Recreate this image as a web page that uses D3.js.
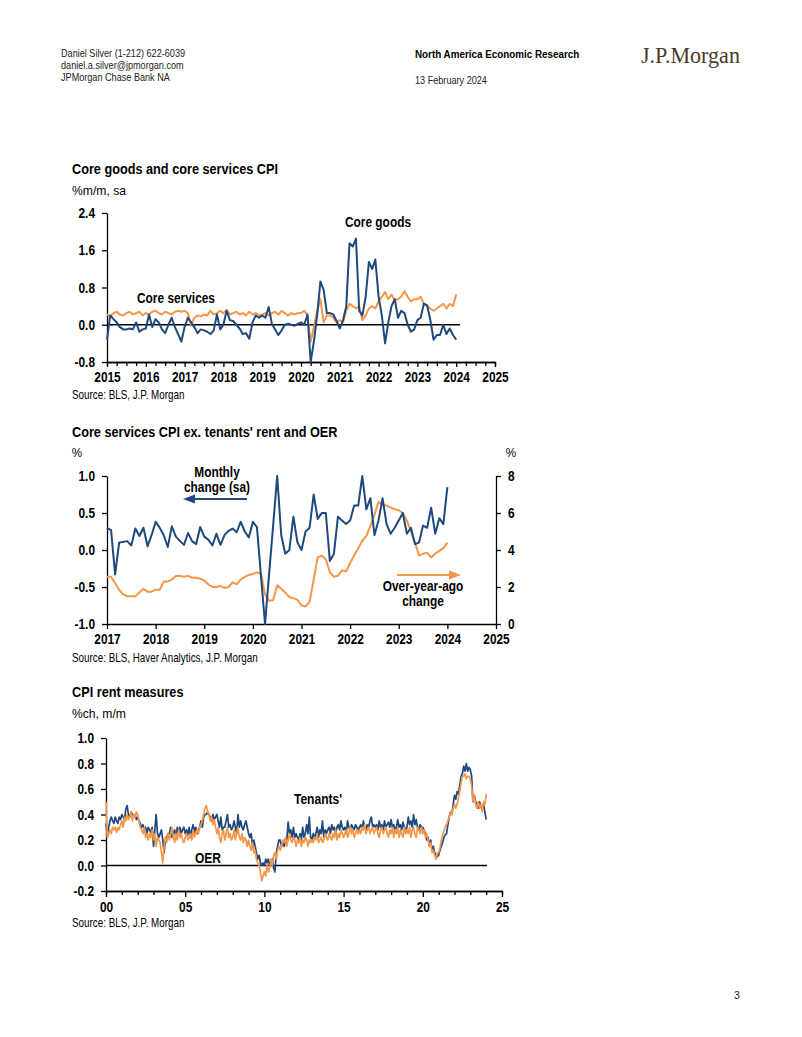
<!DOCTYPE html>
<html><head><meta charset="utf-8">
<script src="https://cdn.jsdelivr.net/npm/d3@7"></script>
<style>
html,body{margin:0;padding:0;background:#fff;}
svg{display:block;}
</style></head>
<body>
<script>
// ---------------- DATA ----------------
// Chart 1: Core goods and core services CPI, %m/m sa, monthly Jan 2015 - Jan 2024
const chart1Start = 2015;
const coreGoods = [
  -0.32, 0.20, 0.12, 0.05, -0.05, -0.10, -0.10, -0.08, -0.10, 0.05, -0.15, -0.10,
  -0.08, 0.22, -0.05, 0.12, 0.05, -0.10, -0.18, 0.00, 0.15, -0.05, -0.20, -0.36,
  -0.05, 0.15, 0.05, -0.05, -0.18, -0.10, -0.12, -0.15, -0.20, -0.12, 0.22, -0.10,
  0.00, 0.30, 0.10, 0.08, 0.00, -0.08, -0.20, -0.18, -0.30, 0.05, 0.20, 0.15,
  0.20, 0.15, 0.38, 0.02, -0.10, -0.22, -0.12, 0.00, 0.02, 0.00, -0.02, 0.02,
  0.05, 0.00, 0.22, -0.80, -0.35, 0.20, 0.93, 0.75, 0.25, 0.25, 0.22, 0.08,
  -0.08, 0.10, 0.40, 1.75, 1.68, 1.85, 0.30, 0.20, 0.60, 1.35, 1.20, 1.40,
  0.60, 0.20, -0.40, 0.05, 0.40, 0.55, 0.15, 0.30, 0.25, 0.00, -0.15, -0.10,
  0.10, 0.15, 0.45, 0.42, 0.10, -0.32, -0.22, -0.22, 0.00, -0.20, -0.08, -0.22,
  -0.32
];
const coreServices = [
  0.22, 0.18, 0.25, 0.28, 0.22, 0.20, 0.25, 0.28, 0.22, 0.25, 0.28, 0.20,
  0.25, 0.22, 0.28, 0.30, 0.25, 0.22, 0.28, 0.25, 0.22, 0.28, 0.30, 0.28,
  0.30, 0.25, 0.00, 0.15, 0.20, 0.18, 0.22, 0.20, 0.30, 0.22, 0.25, 0.30,
  0.25, 0.32, 0.22, 0.25, 0.28, 0.22, 0.25, 0.20, 0.28, 0.22, 0.25, 0.20,
  0.22, 0.25, 0.20, 0.25, 0.28, 0.22, 0.30, 0.25, 0.20, 0.25, 0.22, 0.25,
  0.25, 0.30, 0.20, -0.36, -0.05, 0.30, 0.55, 0.05, 0.20, 0.20, 0.15, 0.05,
  0.10, 0.05, 0.30, 0.45, 0.40, 0.35, 0.40, 0.10, 0.20, 0.35, 0.40, 0.35,
  0.50, 0.60, 0.70, 0.55, 0.65, 0.52, 0.55, 0.60, 0.72, 0.60, 0.50, 0.55,
  0.55, 0.60, 0.45, 0.40, 0.35, 0.30, 0.35, 0.40, 0.45, 0.35, 0.45, 0.40,
  0.65
];
const chart1YTicks = [-0.8, 0.0, 0.8, 1.6, 2.4];
const chart1XTicks = [2015, 2016, 2017, 2018, 2019, 2020, 2021, 2022, 2023, 2024, 2025];

// Chart 2: Core services CPI ex. tenants' rent and OER, monthly Jan 2017 - Jan 2024
const chart2Start = 2017;
const servExMonthly = [
  0.30, 0.27, -0.33, 0.10, 0.11, 0.12, 0.06, 0.29, 0.19, 0.30, 0.05, 0.20,
  0.38, 0.30, 0.20, 0.04, 0.32, 0.18, 0.12, 0.07, 0.23, 0.12, 0.08, 0.31,
  0.18, 0.14, 0.06, 0.22, 0.07, 0.20, 0.26, 0.29, 0.24, 0.38, 0.25, 0.17,
  0.38, 0.31, -0.35, -1.00, -0.33, 0.33, 1.00, 0.20, -0.05, 0.00, 0.45, 0.10,
  0.00, 0.25, 0.30, 0.75, 0.42, 0.50, 0.50, -0.15, -0.05, 0.45, 0.40, 0.35,
  0.40, 0.60, 0.60, 1.00, 0.55, 0.70, 0.20, 0.40, 0.70, 0.35, 0.22, 0.30,
  0.40, 0.50, 0.22, 0.30, 0.08, 0.10, 0.33, 0.30, 0.57, 0.22, 0.43, 0.35,
  0.85
];
const servExYoY = [
  2.55, 2.55, 2.20, 1.85, 1.60, 1.50, 1.50, 1.50, 1.70, 1.90, 1.75, 1.75,
  1.85, 1.85, 2.30, 2.30, 2.40, 2.60, 2.60, 2.55, 2.60, 2.50, 2.50, 2.45,
  2.35, 2.15, 2.00, 2.00, 2.05, 1.95, 2.00, 2.25, 2.15, 2.40, 2.55, 2.65,
  2.70, 2.80, 2.70, 1.60, 1.25, 1.30, 2.10, 1.90, 1.70, 1.45, 1.40, 1.30,
  1.00, 0.95, 1.20, 2.40, 3.60, 3.70, 3.50, 2.80, 2.55, 2.60, 2.90, 2.85,
  3.30, 3.70, 4.10, 4.50, 4.75, 5.30, 5.90, 6.60, 6.45, 6.40, 6.30, 6.20,
  6.15, 6.00, 5.60, 5.00, 4.40, 3.70, 3.80, 3.85, 3.60, 3.80, 3.95, 4.10,
  4.40
];
const chart2YLeftTicks = [-1.0, -0.5, 0.0, 0.5, 1.0];
const chart2YRightTicks = [0, 2, 4, 6, 8];
const chart2XTicks = [2017, 2018, 2019, 2020, 2021, 2022, 2023, 2024, 2025];

// Chart 3: CPI rent measures, %ch m/m, monthly Jan 2000 - Jan 2024
const chart3Start = 2000;
const tenantsRent = [
  0.33, 0.22, 0.30, 0.35, 0.38, 0.35, 0.33, 0.38, 0.35, 0.33, 0.38, 0.36,
  0.40, 0.38, 0.36, 0.44, 0.47, 0.40, 0.38, 0.42, 0.40, 0.38, 0.40, 0.36,
  0.38, 0.35, 0.33, 0.30, 0.32, 0.28, 0.30, 0.25, 0.30, 0.28, 0.26, 0.30,
  0.15, 0.28, 0.40, 0.25, 0.22, 0.25, 0.28, 0.20, 0.10, 0.20, 0.22, 0.25,
  0.25, 0.30, 0.22, 0.25, 0.28, 0.22, 0.30, 0.25, 0.30, 0.25, 0.28, 0.30,
  0.25, 0.28, 0.24, 0.30, 0.22, 0.28, 0.32, 0.26, 0.30, 0.25, 0.28, 0.30,
  0.35, 0.30, 0.38, 0.40, 0.40, 0.42, 0.40, 0.38, 0.35, 0.40, 0.36, 0.38,
  0.40, 0.35, 0.30, 0.38, 0.28, 0.30, 0.30, 0.35, 0.40, 0.30, 0.32, 0.28,
  0.30, 0.35, 0.30, 0.25, 0.40, 0.30, 0.35, 0.30, 0.28, 0.32, 0.35, 0.30,
  0.25, 0.22, 0.25, 0.15, 0.20, 0.15, 0.10, 0.05, 0.08, 0.02, 0.00, 0.02,
  0.00, 0.05, 0.02, 0.05, 0.00, 0.03, 0.05, -0.02, -0.05, 0.10, 0.15, 0.20,
  0.20, 0.15, 0.18, 0.15, 0.20, 0.20, 0.34, 0.25, 0.28, 0.22, 0.30, 0.22,
  0.25, 0.22, 0.20, 0.25, 0.20, 0.30, 0.22, 0.25, 0.32, 0.25, 0.38, 0.22,
  0.20, 0.25, 0.22, 0.25, 0.30, 0.22, 0.28, 0.25, 0.35, 0.22, 0.28, 0.25,
  0.28, 0.30, 0.25, 0.32, 0.28, 0.30, 0.25, 0.30, 0.32, 0.28, 0.35, 0.30,
  0.28, 0.30, 0.25, 0.35, 0.30, 0.28, 0.32, 0.30, 0.28, 0.32, 0.30, 0.28,
  0.30, 0.32, 0.28, 0.35, 0.30, 0.28, 0.32, 0.30, 0.35, 0.38, 0.30, 0.32,
  0.30, 0.32, 0.28, 0.35, 0.30, 0.32, 0.28, 0.35, 0.30, 0.32, 0.34, 0.30,
  0.36, 0.30, 0.32, 0.28, 0.30, 0.36, 0.30, 0.32, 0.28, 0.34, 0.30, 0.28,
  0.30, 0.38, 0.32, 0.35, 0.30, 0.40, 0.32, 0.36, 0.30, 0.28, 0.32, 0.30,
  0.30, 0.28, 0.25, 0.20, 0.22, 0.15, 0.20, 0.12, 0.15, 0.10, 0.08, 0.07,
  0.08, 0.12, 0.15, 0.18, 0.22, 0.24, 0.25, 0.32, 0.38, 0.42, 0.40, 0.48,
  0.55, 0.52, 0.58, 0.56, 0.63, 0.70, 0.72, 0.78, 0.74, 0.80, 0.74, 0.77,
  0.75, 0.70, 0.50, 0.55, 0.50, 0.48, 0.45, 0.50, 0.47, 0.45, 0.48, 0.42,
  0.36
];
const oerRent = [
  0.50, 0.22, 0.25, 0.28, 0.25, 0.30, 0.28, 0.30, 0.26, 0.30, 0.28, 0.32,
  0.35, 0.30, 0.38, 0.35, 0.40, 0.36, 0.38, 0.42, 0.35, 0.40, 0.38, 0.42,
  0.40, 0.35, 0.30, 0.28, 0.25, 0.30, 0.22, 0.25, 0.20, 0.25, 0.22, 0.28,
  0.20, 0.25, 0.15, 0.22, 0.20, 0.18, 0.10, 0.02, 0.15, 0.22, 0.18, 0.25,
  0.20, 0.25, 0.30, 0.22, 0.18, 0.25, 0.20, 0.28, 0.22, 0.25, 0.20, 0.18,
  0.22, 0.25, 0.20, 0.22, 0.25, 0.20, 0.28, 0.22, 0.25, 0.28, 0.25, 0.30,
  0.32, 0.35, 0.40, 0.45, 0.47, 0.42, 0.40, 0.35, 0.38, 0.32, 0.36, 0.30,
  0.25, 0.30, 0.22, 0.18, 0.25, 0.28, 0.20, 0.25, 0.30, 0.22, 0.25, 0.20,
  0.22, 0.28, 0.20, 0.25, 0.30, 0.22, 0.20, 0.25, 0.18, 0.22, 0.20, 0.15,
  0.20, 0.15, 0.12, 0.18, 0.10, 0.12, 0.05, 0.02, 0.00, -0.05, -0.12, -0.08,
  -0.05, -0.08, 0.00, -0.05, -0.02, 0.05, 0.00, 0.08, 0.10, 0.05, 0.12, 0.15,
  0.12, 0.15, 0.20, 0.18, 0.22, 0.15, 0.20, 0.25, 0.20, 0.18, 0.22, 0.20,
  0.15, 0.20, 0.18, 0.22, 0.15, 0.20, 0.18, 0.22, 0.20, 0.15, 0.20, 0.18,
  0.20, 0.18, 0.22, 0.20, 0.25, 0.18, 0.20, 0.22, 0.18, 0.20, 0.25, 0.22,
  0.20, 0.25, 0.22, 0.20, 0.25, 0.22, 0.28, 0.20, 0.25, 0.22, 0.28, 0.25,
  0.22, 0.25, 0.28, 0.22, 0.25, 0.30, 0.25, 0.28, 0.22, 0.25, 0.28, 0.25,
  0.28, 0.25, 0.30, 0.28, 0.32, 0.25, 0.28, 0.30, 0.25, 0.28, 0.30, 0.25,
  0.28, 0.30, 0.25, 0.22, 0.28, 0.30, 0.25, 0.28, 0.30, 0.25, 0.22, 0.28,
  0.25, 0.30, 0.22, 0.28, 0.25, 0.30, 0.22, 0.28, 0.25, 0.22, 0.30, 0.25,
  0.28, 0.25, 0.30, 0.22, 0.28, 0.30, 0.25, 0.22, 0.30, 0.28, 0.25, 0.30,
  0.25, 0.28, 0.22, 0.25, 0.20, 0.15, 0.18, 0.10, 0.12, 0.08, 0.05, 0.10,
  0.10, 0.14, 0.20, 0.24, 0.27, 0.30, 0.32, 0.35, 0.38, 0.42, 0.40, 0.45,
  0.48, 0.45, 0.48, 0.53, 0.58, 0.65, 0.70, 0.70, 0.72, 0.68, 0.70, 0.70,
  0.68, 0.62, 0.50, 0.55, 0.48, 0.45, 0.50, 0.45, 0.48, 0.42, 0.50, 0.48,
  0.56
];
const chart3YTicks = [-0.2, 0.0, 0.2, 0.4, 0.6, 0.8, 1.0];
const chart3XTicks = [2000, 2005, 2010, 2015, 2020, 2025];
const chart3XLabels = ["00", "05", "10", "15", "20", "25"];

// ---------------- STYLE ----------------
const NAVY = "#1f497d";
const ORANGE = "#f79646";
const FONT = '"Liberation Sans", Arial, Helvetica, sans-serif';
const SX = 0.82;   // horizontal condensing (reference uses a narrow sans)

const svg = d3.select("body").append("svg")
  .attr("width", 802).attr("height", 1037)
  .style("font-family", FONT);
svg.append("rect").attr("width", 802).attr("height", 1037).attr("fill", "#fff");

function txt(x, y, s, o = {}) {
  const sx = o.sx || 1;
  return svg.append("text")
    .attr("transform", `translate(${x},${y}) scale(${sx},1)`)
    .text(s)
    .attr("font-size", o.size || 10)
    .attr("font-weight", o.bold ? "bold" : "normal")
    .attr("text-anchor", o.anchor || "start")
    .attr("fill", o.color || "#000")
    .attr("font-family", o.family || FONT);
}

// Header
txt(61, 57, "Daniel Silver  (1-212) 622-6039", {size: 10.6, sx: 0.86, color: "#222"});
txt(61, 69, "daniel.a.silver@jpmorgan.com", {size: 10.6, sx: 0.86, color: "#222"});
txt(61, 81, "JPMorgan Chase Bank NA", {size: 10.6, sx: 0.86, color: "#222"});
txt(415, 58, "North America Economic Research", {size: 10.6, sx: 0.93, bold: true});
txt(415, 84, "13 February 2024", {size: 10.6, sx: 0.86, color: "#222"});
txt(641, 63, "J.P.Morgan", {size: 23, sx: 0.96, color: "#4a3a2a", family: '"Liberation Serif", "Times New Roman", serif'});
txt(737, 999, "3", {size: 10.5, color: "#222", anchor: "middle"});

function months(arr, start) { return arr.map((v, i) => ({t: start + i / 12, v})); }

function styleAxis(g) {
  g.select(".domain").attr("stroke", "#000").attr("stroke-width", 1.3);
  g.selectAll(".tick line").attr("stroke", "#000").attr("stroke-width", 1.3);
  g.selectAll(".tick text").attr("font-family", FONT).attr("font-size", 14.5)
    .attr("font-weight", "bold").attr("fill", "#000")
    .each(function () {
      const t = d3.select(this);
      const x0 = +t.attr("x") || 0;
      t.attr("x", x0 / SX).attr("transform", `scale(${SX},1)`);
    });
}

function drawLine(data, x, y, color, w) {
  svg.append("path").datum(data)
    .attr("fill", "none").attr("stroke", color).attr("stroke-width", w)
    .attr("stroke-linejoin", "round")
    .attr("d", d3.line().x(d => x(d.t)).y(d => y(d.v)));
}

const TITLE = {size: 15.5, bold: true, sx: SX};
const SUB = {size: 13.5, sx: 0.9};
const SRC = {size: 12, sx: SX};
const ANN = {size: 14.5, bold: true, sx: SX, anchor: "middle"};

// ---------------- CHART 1 ----------------
{
  txt(72, 174, "Core goods and core services CPI", TITLE);
  txt(72, 195, "%m/m, sa", SUB);
  const x = d3.scaleLinear().domain([2015, 2025]).range([107, 495]);
  const y = d3.scaleLinear().domain([-0.8, 2.4]).range([362, 213]);
  const minor = d3.range(2015, 2025.001, 0.25).filter(t => Math.abs(t - Math.round(t)) > 0.01);
  svg.append("g").attr("transform", "translate(0,362)")
    .call(d3.axisBottom(x).tickValues(minor).tickSize(4).tickFormat(""))
    .call(styleAxis);
  svg.append("g").attr("transform", "translate(0,362)")
    .call(d3.axisBottom(x).tickValues(chart1XTicks).tickSize(5).tickSizeOuter(0).tickPadding(5).tickFormat(d => d))
    .call(styleAxis);
  svg.append("g").attr("transform", "translate(107,0)")
    .call(d3.axisLeft(y).tickValues(chart1YTicks).tickSize(5).tickSizeOuter(0).tickPadding(7).tickFormat(d => d.toFixed(1)))
    .call(styleAxis);
  svg.append("line").attr("x1", x(2015)).attr("x2", x(2024.1)).attr("y1", y(0)).attr("y2", y(0))
    .attr("stroke", "#000").attr("stroke-width", 1.3);
  drawLine(months(coreServices, chart1Start), x, y, ORANGE, 2);
  drawLine(months(coreGoods, chart1Start), x, y, NAVY, 2);
  txt(378, 227, "Core goods", ANN);
  txt(176, 303, "Core services", ANN);
  txt(72, 399, "Source: BLS, J.P. Morgan", SRC);
}

// ---------------- CHART 2 ----------------
{
  txt(72, 437, "Core services CPI ex. tenants' rent and OER", TITLE);
  txt(77, 457, "%", {size: 13, anchor: "middle", sx: 0.9});
  txt(511, 457, "%", {size: 13, anchor: "middle", sx: 0.9});
  const x = d3.scaleLinear().domain([2017, 2025]).range([107, 496]);
  const yL = d3.scaleLinear().domain([-1, 1]).range([624, 476]);
  const yR = d3.scaleLinear().domain([0, 8]).range([624, 476]);
  svg.append("g").attr("transform", "translate(0,624)")
    .call(d3.axisBottom(x).tickValues(chart2XTicks).tickSize(5).tickSizeOuter(0).tickPadding(5).tickFormat(d => d))
    .call(styleAxis);
  svg.append("g").attr("transform", "translate(107,0)")
    .call(d3.axisLeft(yL).tickValues(chart2YLeftTicks).tickSize(5).tickSizeOuter(0).tickPadding(7).tickFormat(d => d.toFixed(1)))
    .call(styleAxis);
  svg.append("g").attr("transform", "translate(496,0)")
    .call(d3.axisRight(yR).tickValues(chart2YRightTicks).tickSize(5).tickSizeOuter(0).tickPadding(7).tickFormat(d => d))
    .call(styleAxis);
  drawLine(months(servExYoY, chart2Start), x, yR, ORANGE, 2);
  drawLine(months(servExMonthly, chart2Start), x, yL, NAVY, 2);

  txt(217, 477, "Monthly", ANN);
  txt(217, 492, "change (sa)", ANN);
  svg.append("line").attr("x1", 247).attr("x2", 192).attr("y1", 499).attr("y2", 499)
    .attr("stroke", NAVY).attr("stroke-width", 2);
  svg.append("path").attr("d", "M183,499 L195,494.5 L195,503.5 Z").attr("fill", NAVY);

  svg.append("line").attr("x1", 397).attr("x2", 452).attr("y1", 575).attr("y2", 575)
    .attr("stroke", ORANGE).attr("stroke-width", 2);
  svg.append("path").attr("d", "M461,575 L449,570.5 L449,579.5 Z").attr("fill", ORANGE);
  txt(423, 591, "Over-year-ago", ANN);
  txt(423, 606, "change", ANN);
  txt(72, 662, "Source: BLS, Haver Analytics, J.P. Morgan", SRC);
}

// ---------------- CHART 3 ----------------
{
  txt(72, 697, "CPI rent measures", TITLE);
  txt(72, 718, "%ch, m/m", SUB);
  const x = d3.scaleLinear().domain([2000, 2025]).range([106, 502]);
  const y = d3.scaleLinear().domain([-0.2, 1.0]).range([891, 738]);
  const minor = d3.range(2001, 2025).filter(t => t % 5 !== 0);
  svg.append("g").attr("transform", "translate(0,891)")
    .call(d3.axisBottom(x).tickValues(minor).tickSize(4).tickFormat(""))
    .call(styleAxis);
  svg.append("g").attr("transform", "translate(0,891)")
    .call(d3.axisBottom(x).tickValues(chart3XTicks).tickSize(6).tickSizeOuter(0).tickPadding(5)
      .tickFormat((d, i) => chart3XLabels[i]))
    .call(styleAxis);
  svg.append("g").attr("transform", "translate(106,0)")
    .call(d3.axisLeft(y).tickValues(chart3YTicks).tickSize(5).tickSizeOuter(0).tickPadding(7).tickFormat(d => d.toFixed(1)))
    .call(styleAxis);
  svg.append("line").attr("x1", x(2000)).attr("x2", x(2024.05)).attr("y1", y(0)).attr("y2", y(0))
    .attr("stroke", "#000").attr("stroke-width", 1.3);
  drawLine(months(tenantsRent, chart3Start), x, y, NAVY, 1.7);
  drawLine(months(oerRent, chart3Start), x, y, ORANGE, 1.7);
  txt(318, 804, "Tenants'", {size: 14, bold: true, sx: 0.86, anchor: "middle"});
  txt(208, 863, "OER", {size: 14, bold: true, sx: 0.86, anchor: "middle"});
  txt(72, 927, "Source: BLS, J.P. Morgan", SRC);
}
</script>
</body></html>
